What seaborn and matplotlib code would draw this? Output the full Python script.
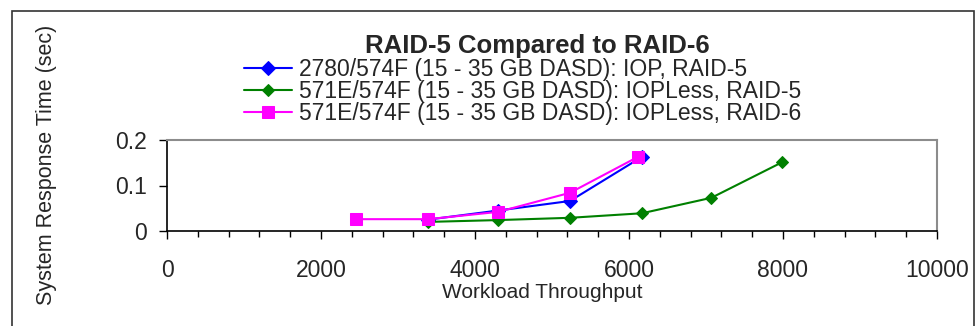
import matplotlib
matplotlib.use("Agg")
import matplotlib.pyplot as plt
from matplotlib.patches import Rectangle
from matplotlib.ticker import MultipleLocator, FuncFormatter
import pandas as pd
import seaborn as sns

# Workload throughput vs. response time for three disk configurations
iop_r5_x = [3390, 4300, 5234, 6169]
iop_r5_y = [0.025, 0.045, 0.066, 0.163]

iopless_r5_x = [3390, 4300, 5234, 6169, 7070, 7987]
iopless_r5_y = [0.020, 0.024, 0.029, 0.039, 0.073, 0.151]

iopless_r6_x = [2455, 3390, 4300, 5234, 6117]
iopless_r6_y = [0.026, 0.026, 0.042, 0.084, 0.163]

series_names = [
    "2780/574F (15 - 35 GB DASD): IOP, RAID-5",
    "571E/574F (15 - 35 GB DASD): IOPLess, RAID-5",
    "571E/574F (15 - 35 GB DASD): IOPLess, RAID-6",
]

title_text = "RAID-5 Compared to RAID-6"
x_label = "Workload Throughput"
y_label = "System Response Time (sec)"

sns.set_theme(style="white")
plt.rcParams["font.family"] = ["Liberation Sans", "DejaVu Sans"]

fig = plt.figure(figsize=(9.77, 3.26), dpi=100)
fig.patch.set_facecolor("white")
W, H = 977.0, 326.0
ax = fig.add_axes([167 / W, 1 - 231 / H, (937 - 167) / W, (231 - 140) / H])
ax.set_facecolor("white")

styles = [
    dict(color="#0000FF", marker="D", markersize=7.6),
    dict(color="#008000", marker="D", markersize=5.8),
    dict(color="#FF00FF", marker="s", markersize=9.2),
]
data = [(iop_r5_x, iop_r5_y), (iopless_r5_x, iopless_r5_y), (iopless_r6_x, iopless_r6_y)]

for i, ((xs, ys), name, st) in enumerate(zip(data, series_names, styles)):
    df = pd.DataFrame({"x": xs, "y": ys})
    sns.lineplot(
        data=df, x="x", y="y", ax=ax, label=name,
        color=st["color"], marker=st["marker"], markersize=st["markersize"],
        markeredgecolor=st["color"], linewidth=1.5, zorder=3 + i,
        estimator=None, sort=False,
    )

ax.set_xlim(0, 10000)
ax.set_ylim(0, 0.2)
ax.xaxis.set_major_locator(MultipleLocator(2000))
ax.xaxis.set_minor_locator(MultipleLocator(400))
ax.yaxis.set_major_locator(MultipleLocator(0.1))
ax.yaxis.set_major_formatter(FuncFormatter(lambda v, p: "0" if v == 0 else f"{v:.1f}"))
ax.tick_params(axis="x", which="major", direction="out", length=5.5, width=1, color="black",
               labelsize=16.5, pad=15, bottom=True)
ax.tick_params(axis="x", which="minor", direction="out", length=4, width=1, color="black", bottom=True)
ax.tick_params(axis="y", which="major", direction="out", length=5.5, width=1, color="black",
               labelsize=16.5, pad=9, left=True)
ax.set_xlabel("")
ax.set_ylabel("")

for side in ("left", "bottom"):
    ax.spines[side].set_color("black")
    ax.spines[side].set_linewidth(1.2)
for side in ("top", "right"):
    ax.spines[side].set_color("#8c8c8c")
    ax.spines[side].set_linewidth(1.5)
    ax.spines[side].set_visible(True)

handles, labels = ax.get_legend_handles_labels()
ax.get_legend().remove()
fig.legend(handles, labels, loc="upper left", bbox_to_anchor=(244 / W, 1 - 58 / H),
           frameon=False, fontsize=16.5, handlelength=2.1, handletextpad=0.3,
           labelspacing=-0.04, borderpad=0, borderaxespad=0)

fig.text(537 / W, 1 - 46 / H, title_text, ha="center", va="center",
         fontsize=18.5, fontweight="bold")
fig.text(542 / W, 1 - 293 / H, x_label, ha="center", va="center", fontsize=15)
fig.text(47 / W, 1 - 165 / H, y_label, ha="center", va="center", rotation=90, fontsize=15.5)

# outer chart frame, open at the bottom edge
fig.add_artist(Rectangle((12 / W, -0.05), (974 - 12) / W, 1 - 11 / H + 0.05,
                         transform=fig.transFigure, fill=False, edgecolor="#333333",
                         linewidth=1.2, clip_on=False))

fig.savefig("out.png", dpi=100, facecolor="white")
